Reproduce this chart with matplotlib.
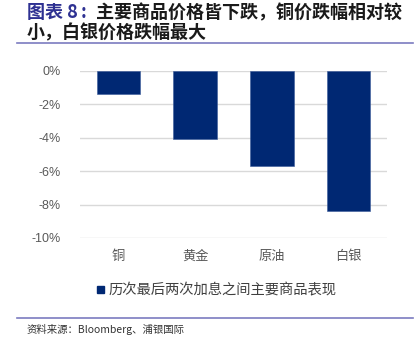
import matplotlib
matplotlib.use("Agg")
import matplotlib.pyplot as plt
from matplotlib.lines import Line2D

plt.rcParams['font.family'] = ['Noto Sans CJK SC', 'DejaVu Sans']

categories = ['铜', '黄金', '原油', '白银']
values = [-1.4, -4.1, -5.7, -8.4]
yticks = [0, -2, -4, -6, -8, -10]
ytick_labels = ['0%', '-2%', '-4%', '-6%', '-8%', '-10%']
series_name = '历次最后两次加息之间主要商品表现'
title_prefix = '图表 8'
title_colon = ':'
title_line1 = '主要商品价格皆下跌，铜价跌幅相对较'
title_line2 = '小，白银价格跌幅最大'
source = '资料来源：Bloomberg、浦银国际'

W, H = 416, 341
fig = plt.figure(figsize=(W / 100, H / 100), dpi=100)

bar_color = '#002873'
ax = fig.add_axes([80 / W, 1 - 238 / H, (387 - 80) / W, (238 - 70.7) / H])
x = list(range(len(categories)))
ax.bar(x, values, width=0.57, color=bar_color, edgecolor='#3a5a9a', linewidth=0.4, zorder=3)
ax.set_xlim(-0.5, len(categories) - 0.5)
ax.set_ylim(-10, 0)
ax.set_yticks(yticks)
ax.set_yticklabels(ytick_labels, fontsize=9, color='#595959', family=['Liberation Sans', 'DejaVu Sans'])
ax.tick_params(axis='y', length=0, pad=14)
ax.set_xticks([])
for s in ax.spines.values():
    s.set_visible(False)
ax.grid(axis='y', color='#D9D9D9', linewidth=1.0, zorder=0)
ax.set_axisbelow(True)

# category labels
for xi, c in zip(x, categories):
    ax.text(xi, -11.1, c, ha='center', va='center', fontsize=9.5,
            color='#595959', clip_on=False)

# legend
fig.patches.append(plt.Rectangle((97 / W, 1 - 292.5 / H), 6.5 / W, 6.5 / H,
                                 transform=fig.transFigure, color=bar_color))
fig.text(108 / W, 1 - 290 / H, series_name, fontsize=10.3, color='#404040',
         ha='left', va='center')

# title
fig.text(27 / W, 1 - 13 / H, title_prefix, fontsize=13, fontweight='bold',
         color='#2E3192', ha='left', va='center')
fig.text(81 / W, 1 - 13 / H, title_colon, fontsize=13, fontweight='bold',
         color='#2E3192', ha='left', va='center')
fig.text(96 / W, 1 - 13 / H, title_line1, fontsize=13, fontweight='bold',
         color='#1a1a1a', ha='left', va='center')
fig.text(27 / W, 1 - 33 / H, title_line2, fontsize=13, fontweight='bold',
         color='#1a1a1a', ha='left', va='center')

# rules
fig.add_artist(Line2D([17 / W, 413 / W], [1 - 42.5 / H, 1 - 42.5 / H],
                      transform=fig.transFigure, color='#7B7BC0', linewidth=1.2))
fig.add_artist(Line2D([17 / W, 413 / W], [1 - 318 / H, 1 - 318 / H],
                      transform=fig.transFigure, color='#7B7BC0', linewidth=1.2))

fig.text(27 / W, 1 - 329 / H, source, fontsize=7.5, color='#333333',
         ha='left', va='center')

fig.savefig('out.png', dpi=100)
